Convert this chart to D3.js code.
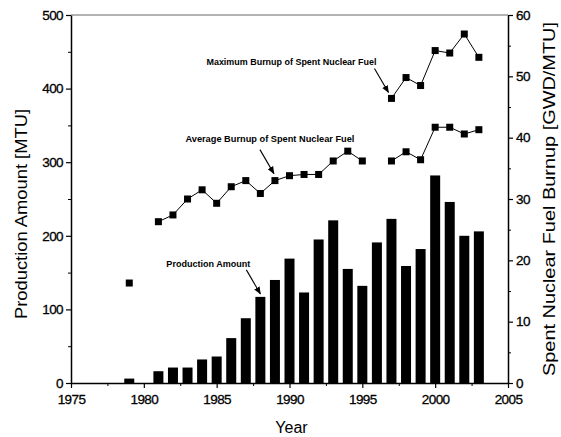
<!DOCTYPE html>
<html>
<head>
<meta charset="utf-8">
<script src="https://cdn.jsdelivr.net/npm/d3@7"></script>
<style>
  body { margin: 0; background: #fff; }
  svg { font-family: "Liberation Sans", Arial, sans-serif; }
</style>
</head>
<body>
<svg width="561" height="437"></svg>
<script>
// production amount (MTU) per year, left axis
const prodYears = [1979, 1980, 1981, 1982, 1983, 1984, 1985, 1986, 1987, 1988, 1989, 1990, 1991,
  1992, 1993, 1994, 1995, 1996, 1997, 1998, 1999, 2000, 2001, 2002, 2003];
const production = [6, 0, 16, 21, 21, 32, 36, 61, 88, 117, 140, 169, 123,
  195, 221, 155, 132, 191, 223, 159, 182, 282, 246, 200, 206];

// average burnup (GWD/MTU), right axis; null = no data
const avgYears = prodYears;
const avgBurnup = [16.3, null, 26.3, 27.4, 30.0, 31.5, 29.3, 32.0, 33.0, 30.9, 33.0, 33.8, 34.0,
  34.0, 36.2, 37.8, 36.2, null, 36.2, 37.7, 36.4, 41.7, 41.7, 40.6, 41.3];

// maximum burnup (GWD/MTU), right axis
const maxYears = [1997, 1998, 1999, 2000, 2001, 2002, 2003];
const maxBurnup = [46.4, 49.8, 48.5, 54.2, 53.8, 56.9, 53.1];

const xTicks = [1975, 1980, 1985, 1990, 1995, 2000, 2005];
const leftTicks = [0, 100, 200, 300, 400, 500];
const rightTicks = [0, 10, 20, 30, 40, 50, 60];

const svg = d3.select("svg");
const pL = 71, pR = 508, pT = 15, pB = 383;

const x = d3.scaleLinear().domain([1975, 2005]).range([pL, pR]);
const yL = d3.scaleLinear().domain([0, 500]).range([pB, pT]);
const yR = d3.scaleLinear().domain([0, 60]).range([pB, pT]);

const barW = 10;

// bars
svg.append("g")
  .selectAll("rect")
  .data(prodYears.map((yr, i) => ({ yr, v: production[i] })).filter(d => d.v > 0))
  .join("rect")
  .attr("x", d => x(d.yr) - barW / 2)
  .attr("y", d => yL(d.v))
  .attr("width", barW)
  .attr("height", d => yL(0) - yL(d.v))
  .attr("fill", "#000");

// frame top line
svg.append("line")
  .attr("x1", pL).attr("x2", pR)
  .attr("y1", pT).attr("y2", pT)
  .attr("stroke", "#666").attr("stroke-width", 1);

// axes
function styleAxis(g) {
  g.select(".domain").attr("stroke", "#000").attr("stroke-width", 1.5);
  g.selectAll(".tick line").attr("stroke", "#000").attr("stroke-width", 1.2);
  g.selectAll("text")
    .attr("fill", "#000")
    .attr("stroke", "#000")
    .attr("stroke-width", 0.3)
    .style("font-size", "13.5px")
    .style("letter-spacing", "-0.6px");
}

const xMinor = d3.range(1977.5, 2005, 5);
svg.append("g")
  .attr("transform", `translate(0,${pB})`)
  .call(d3.axisBottom(x).tickValues(xMinor).tickSize(3).tickFormat(""))
  .call(g => g.select(".domain").remove())
  .call(g => g.selectAll(".tick line").attr("stroke", "#000"));
svg.append("g")
  .attr("transform", `translate(0,${pB})`)
  .call(d3.axisBottom(x).tickValues(xTicks).tickSize(5).tickSizeOuter(0).tickPadding(6).tickFormat(d3.format("d")))
  .call(styleAxis);

svg.append("g")
  .attr("transform", `translate(${pL},0)`)
  .call(d3.axisLeft(yL).tickValues(d3.range(50, 500, 100)).tickSize(3).tickFormat(""))
  .call(g => g.select(".domain").remove())
  .call(g => g.selectAll(".tick line").attr("stroke", "#000"));
svg.append("g")
  .attr("transform", `translate(${pL},0)`)
  .call(d3.axisLeft(yL).tickValues(leftTicks).tickSize(5).tickSizeOuter(0).tickPadding(3))
  .call(styleAxis);

svg.append("g")
  .attr("transform", `translate(${pR},0)`)
  .call(d3.axisRight(yR).tickValues(d3.range(5, 60, 10)).tickSize(3).tickFormat(""))
  .call(g => g.select(".domain").remove())
  .call(g => g.selectAll(".tick line").attr("stroke", "#000"));
svg.append("g")
  .attr("transform", `translate(${pR},0)`)
  .call(d3.axisRight(yR).tickValues(rightTicks).tickSize(5).tickSizeOuter(0).tickPadding(3))
  .call(styleAxis);

// axis titles
svg.append("text")
  .attr("transform", `translate(27,${(pT + pB) / 2 + 15}) rotate(-90)`)
  .attr("text-anchor", "middle")
  .attr("textLength", 210)
  .attr("lengthAdjust", "spacingAndGlyphs")
  .style("font-size", "16.5px")
  .text("Production Amount [MTU]");

svg.append("text")
  .attr("transform", `translate(555,${(pT + pB) / 2}) rotate(-90)`)
  .attr("text-anchor", "middle")
  .attr("textLength", 354)
  .attr("lengthAdjust", "spacingAndGlyphs")
  .style("font-size", "17px")
  .text("Spent Nuclear Fuel Burnup [GWD/MTU]");

svg.append("text")
  .attr("x", (pL + pR) / 2 + 2)
  .attr("y", 433)
  .attr("text-anchor", "middle")
  .style("font-size", "16px")
  .text("Year");

// burnup lines
const line = d3.line()
  .defined(d => d.v != null)
  .x(d => x(d.yr))
  .y(d => yR(d.v));

const avgData = avgYears.map((yr, i) => ({ yr, v: avgBurnup[i] }));
const maxData = maxYears.map((yr, i) => ({ yr, v: maxBurnup[i] }));

[avgData, maxData].forEach(series => {
  svg.append("path")
    .datum(series)
    .attr("d", line)
    .attr("fill", "none")
    .attr("stroke", "#000")
    .attr("stroke-width", 1);

  svg.append("g")
    .selectAll("rect")
    .data(series.filter(d => d.v != null))
    .join("rect")
    .attr("x", d => x(d.yr) - 3.5)
    .attr("y", d => yR(d.v) - 3.5)
    .attr("width", 7)
    .attr("height", 7)
    .attr("fill", "#000");
});

// annotations with arrows
svg.append("defs").append("marker")
  .attr("id", "arrow")
  .attr("viewBox", "0 0 10 10")
  .attr("refX", 9).attr("refY", 5)
  .attr("markerWidth", 7).attr("markerHeight", 7)
  .attr("orient", "auto")
  .append("path")
  .attr("d", "M0,1 L10,5 L0,9 Z")
  .attr("fill", "#000");

function annotate(label, width, tipX, tipY, textDx, textDy) {
  svg.append("line")
    .attr("x1", tipX - 14).attr("y1", tipY - 24)
    .attr("x2", tipX).attr("y2", tipY)
    .attr("stroke", "#000")
    .attr("stroke-width", 1.1)
    .attr("marker-end", "url(#arrow)");
  svg.append("text")
    .attr("x", tipX + textDx)
    .attr("y", tipY + textDy)
    .attr("text-anchor", "middle")
    .attr("textLength", width)
    .attr("lengthAdjust", "spacingAndGlyphs")
    .style("font-size", "9.5px")
    .style("font-weight", "bold")
    .text(label);
}

annotate("Maximum Burnup of Spent Nuclear Fuel", 170, x(1997) - 3, yR(maxBurnup[0]) - 6, -97, -27);
annotate("Average Burnup of Spent Nuclear Fuel", 169, x(1989) - 1, yR(avgBurnup[10]) - 7, -4, -32);
annotate("Production Amount", 84, x(1988), yL(production[9]) - 3, -52, -27);
</script>
</body>
</html>
